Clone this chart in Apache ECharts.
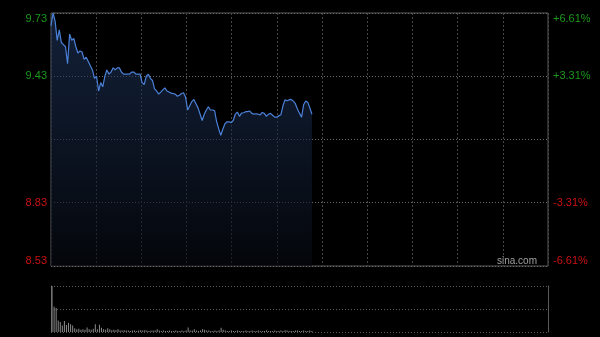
<!DOCTYPE html>
<html><head><meta charset="utf-8">
<script src="https://cdn.jsdelivr.net/npm/echarts@6/dist/echarts.min.js"></script>
<style>html,body{margin:0;padding:0;background:#000;}#c{width:600px;height:337px;}</style>
</head><body><div id="c"></div>
<script>
// minutes of the trading day (9:30-11:30, 13:00-15:00)
const minutes = [];
for (let i = 0; i <= 240; i++) {
  let t = i <= 120 ? 570 + i : 780 + (i - 120);
  minutes.push(String(Math.floor(t / 60)).padStart(2, '0') + ':' + String(t % 60).padStart(2, '0'));
}
const prices = [
  9.67,9.73,9.69,9.60,9.65,9.59,9.58,9.57,9.49,9.63,
  9.60,9.61,9.57,9.54,9.55,9.545,9.51,9.52,9.50,9.48,
  9.46,9.42,9.43,9.36,9.40,9.38,9.43,9.46,9.44,9.45,
  9.47,9.46,9.47,9.47,9.45,9.44,9.44,9.44,9.44,9.45,
  9.45,9.44,9.44,9.44,9.40,9.39,9.43,9.44,9.42,9.41,
  9.37,9.36,9.345,9.355,9.365,9.375,9.36,9.355,9.35,9.348,
  9.345,9.335,9.34,9.348,9.352,9.33,9.27,9.29,9.31,9.32,
  9.30,9.28,9.25,9.22,9.25,9.27,9.285,9.27,9.27,9.267,
  9.214,9.18,9.15,9.18,9.205,9.214,9.214,9.21,9.22,9.25,
  9.26,9.24,9.255,9.257,9.262,9.262,9.265,9.254,9.25,9.252,
  9.25,9.247,9.258,9.254,9.24,9.25,9.254,9.245,9.236,9.236,
  9.242,9.247,9.29,9.318,9.314,9.318,9.32,9.312,9.30,9.275,
  9.255,9.236,9.295,9.313,9.306,9.28,9.25
];
const volumes = [
  100,55,52,25,22,14,24,15,20,17,
  14,8,6,7,5,6,5,10,6,5,
  7,17,6,16,9,6,5,8,6,4,
  5,4,6,3,3,4,3,3,2,3,
  3,2,3,4,3,4,3,2,3,3,
  3,6,3,2,3,2,2,3,2,2,
  3,2,2,3,2,3,10,3,3,6,
  3,2,3,6,5,3,3,2,2,3,
  2,3,9,5,3,2,2,3,2,2,
  3,2,2,2,3,2,2,3,2,2,
  3,2,2,2,3,2,2,2,3,2,
  2,3,2,4,3,2,2,2,3,3,
  2,2,3,2,2,3,2
];
const priceTicks = ['8.53','8.83','9.13','9.43','9.73'];
const pctTicks = ['-6.61%','-3.31%','','+3.31%','+6.61%'];
const priceMin = 8.53, priceMax = 9.73, priceStep = 0.3;

const green = '#1c981c', red = '#cc1111';
const tickColor = (v, i) => (i > 2 ? green : red);

const chart = echarts.init(document.getElementById('c'), null, {renderer: 'canvas'});
chart.setOption({
  backgroundColor: '#000',
  animation: false,
  textStyle: {fontFamily: 'Liberation Sans, Arial, sans-serif'},
  grid: [
    {left: 51, right: 52, top: 13, height: 253, show: true, borderColor: '#5a5a5a', borderWidth: 1, backgroundColor: 'transparent'},
    {left: 51, right: 52, top: 286, height: 46}
  ],
  xAxis: [
    {type: 'category', gridIndex: 0, data: minutes, boundaryGap: false,
     axisLine: {show: false}, axisTick: {show: false}, axisLabel: {show: false}, splitLine: {show: false}},
    {type: 'value', gridIndex: 0, min: 0, max: 11, interval: 1, position: 'bottom',
     axisLine: {show: false}, axisTick: {show: false}, axisLabel: {show: false},
     splitLine: {show: true, lineStyle: {color: '#474747', type: [2, 2], width: 1}}},
    {type: 'category', gridIndex: 1, data: minutes, boundaryGap: true,
     axisLine: {show: false}, axisTick: {show: false}, axisLabel: {show: false}, splitLine: {show: false}}
  ],
  yAxis: [
    {type: 'value', gridIndex: 0, min: priceMin, max: priceMax, interval: priceStep,
     axisLine: {show: false}, axisTick: {show: false},
     axisLabel: {margin: 4, fontSize: 11, color: tickColor,
       formatter: (v, i) => (i === 2 ? '' : priceTicks[i]),
       verticalAlignMinLabel: 'bottom', verticalAlignMaxLabel: 'top'},
     splitLine: {show: true, lineStyle: {color: '#6a6a6a', type: [1, 2], width: 1}}},
    {type: 'value', gridIndex: 0, position: 'right', min: priceMin, max: priceMax, interval: priceStep,
     axisLine: {show: false}, axisTick: {show: false},
     axisLabel: {margin: 5, fontSize: 11, color: tickColor,
       formatter: (v, i) => pctTicks[i],
       verticalAlignMinLabel: 'bottom', verticalAlignMaxLabel: 'top'},
     splitLine: {show: false}},
    {type: 'value', gridIndex: 1, min: 0, max: 100, interval: 50,
     axisLine: {show: true, lineStyle: {color: '#5a5a5a'}}, axisTick: {show: false}, axisLabel: {show: false},
     splitLine: {show: true, lineStyle: {color: '#5a5a5a', type: [1, 2], width: 1}}},
    {type: 'value', gridIndex: 1, position: 'right', min: 0, max: 100, interval: 50,
     axisLine: {show: true, lineStyle: {color: '#5a5a5a'}}, axisTick: {show: false}, axisLabel: {show: false},
     splitLine: {show: false}}
  ],
  graphic: [
    {type: 'text', right: 63, top: 256, style: {text: 'sina.com', fill: '#a0a0a0', fontSize: 10, fontFamily: 'Liberation Sans, Arial, sans-serif'}}
  ],
  series: [
    {type: 'line', xAxisIndex: 0, yAxisIndex: 0, data: prices, showSymbol: false, symbol: 'none',
     lineStyle: {color: '#4b80d8', width: 1.2},
     areaStyle: {color: new echarts.graphic.LinearGradient(0, 0, 0, 1, [
       {offset: 0, color: 'rgba(35,60,105,0.75)'},
       {offset: 1, color: 'rgba(6,9,16,0.9)'}
     ])}},
    {type: 'bar', xAxisIndex: 2, yAxisIndex: 2, data: volumes, barWidth: 1,
     itemStyle: {color: '#8a8a8a'}}
  ]
});
</script>
</body></html>
